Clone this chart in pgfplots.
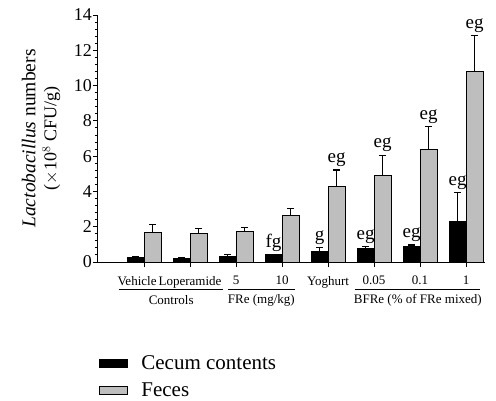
\documentclass[border=0pt]{standalone}
\usepackage{fontspec}
\setmainfont{Liberation Serif}
\usepackage{pgfplots}
\pgfplotsset{compat=1.18}
\usepackage{pgfplotstable}
\definecolor{barg}{RGB}{190,190,190}
\tikzset{lett/.style={anchor=south, inner sep=0pt, yshift=3pt, font=\fontsize{19}{19}\selectfont}}
\pgfplotstableread{
x y e
0 0.28 0.04
1 0.22 0.03
2 0.30 0.14
3 0.40 0.03
4 0.59 0.24
5 0.78 0.09
6 0.89 0.07
7 2.27 1.68
}\cecum
\pgfplotstableread{
x y e
0 1.68 0.46
1 1.63 0.26
2 1.72 0.25
3 2.61 0.41
4 4.27 0.95
5 4.91 1.14
6 6.37 1.30
7 10.81 2.01
}\feces
\begin{document}
\begin{tikzpicture}
\useasboundingbox (0,0) rectangle (496pt,400pt);
\begin{axis}[
  at={(98pt,138pt)}, anchor=south west,
  scale only axis, width=387pt, height=247pt,
  xmin=-1, xmax=7.41, ymin=0, ymax=14,
  axis x line=bottom, axis y line=left,
  axis line style={-, line width=1pt},
  clip=false,
  xtick={0,...,7},
  xticklabels={Vehicle\rule{14pt}{0pt},Loperamide,5,10,Yoghurt,0.05,0.1,1},
  ytick={0,2,...,14},
  minor y tick num=4,
  tick align=outside,
  major tick length=5pt, minor tick length=3pt,
  tick style={line width=0.9pt, black},
  /pgf/number format/assume math mode=true,
  yticklabel style={font=\fontsize{18}{18}\selectfont, inner sep=1pt},
  xticklabel style={font=\fontsize{13}{13}\selectfont, inner sep=0pt, yshift=-9pt},
  ylabel={{\fontsize{19.5}{21}\selectfont\textit{Lactobacillus} numbers}\\($\times$10$^{8}$ CFU/g)},
  ylabel style={at={(axis description cs:-0.147,0.5)}, anchor=center, align=center, font=\fontsize{18}{21}\selectfont},
  legend style={draw=none, fill=none, at={(axis description cs:0.003,-0.37)}, anchor=north west, inner sep=0pt, row sep=8pt, font=\fontsize{21}{23}\selectfont, legend cell align=left,
    /tikz/every odd column/.append style={column sep=11pt}},
]
\addplot[ybar, bar width=17pt, bar shift=-8.5pt, fill=black, draw=black, line width=1pt,
  legend image code/.code={\draw[fill=black,draw=black,line width=1pt] (0pt,-4pt) rectangle (28pt,4pt);},
  error bars/.cd, y dir=plus, y explicit,
  error bar style={line width=1.2pt, black, xshift=-8.5pt},
  error mark options={rotate=90, mark size=3.5pt, line width=1.2pt, black}]
  table[x=x, y=y, y error=e] {\cecum};
\addlegendentry{Cecum contents}
\addplot[ybar, bar width=17pt, bar shift=8.5pt, fill=barg, draw=black, line width=1pt,
  legend image code/.code={\draw[fill=barg,draw=black,line width=1pt] (0pt,-4pt) rectangle (28pt,4pt);},
  error bars/.cd, y dir=plus, y explicit,
  error bar style={line width=1.2pt, black, xshift=8.5pt},
  error mark options={rotate=90, mark size=3.5pt, line width=1.2pt, black}]
  table[x=x, y=y, y error=e] {\feces};
\addlegendentry{Feces}
% significance letters
\node[lett, xshift=-8.5pt] at (axis cs:3,0.43) {fg};
\node[lett, xshift=-8.5pt] at (axis cs:4,0.83) {g};
\node[lett, xshift=-8.5pt] at (axis cs:5,0.87) {eg};
\node[lett, xshift=-8.5pt] at (axis cs:6,0.96) {eg};
\node[lett, xshift=-8.5pt] at (axis cs:7,3.95) {eg};
\node[lett, xshift=8.5pt] at (axis cs:4,5.22) {eg};
\node[lett, xshift=8.5pt] at (axis cs:5,6.05) {eg};
\node[lett, xshift=8.5pt] at (axis cs:6,7.67) {eg};
\node[lett, xshift=8.5pt] at (axis cs:7,12.82) {eg};
% group lines and labels
\draw[line width=0.8pt] (axis cs:-0.54,-1.53) -- (axis cs:1.72,-1.53);
\draw[line width=0.8pt] (axis cs:1.83,-1.53) -- (axis cs:3.28,-1.53);
\draw[line width=0.8pt] (axis cs:4.59,-1.53) -- (axis cs:7.30,-1.53);
\node[font=\fontsize{13}{13}\selectfont, anchor=center] at (axis cs:0.59,-2.15) {Controls};
\node[font=\fontsize{13}{13}\selectfont, anchor=center] at (axis cs:2.55,-2.15) {FRe (mg/kg)};
\node[font=\fontsize{13}{13}\selectfont, anchor=center] at (axis cs:5.95,-2.15) {BFRe (\% of FRe mixed)};
\end{axis}
\end{tikzpicture}
\end{document}
